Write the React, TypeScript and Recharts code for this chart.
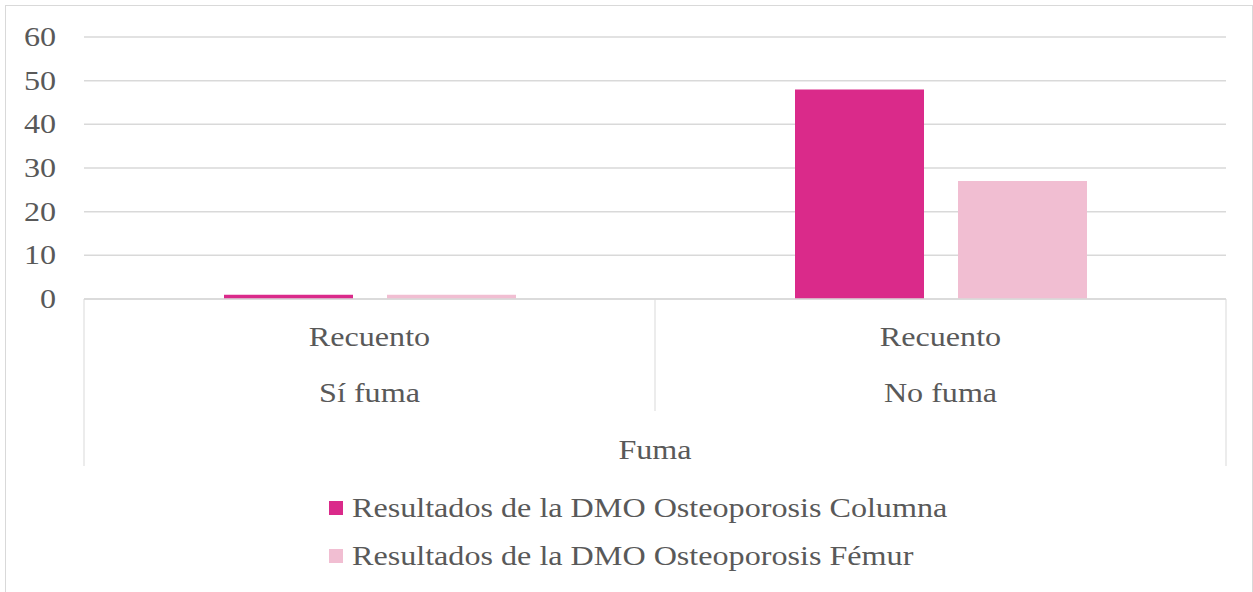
import { BarChart, Bar, XAxis, YAxis, CartesianGrid, Legend } from 'recharts';

const categories = ['Sí fuma', 'No fuma'];
const subLabels = ['Recuento', 'Recuento'];
const columna = [1, 48];
const femur = [1, 27];
const yTicks = [0, 10, 20, 30, 40, 50, 60];
const groupLabel = 'Fuma';

const seriesNames = {
    columna: 'Resultados de la DMO Osteoporosis Columna',
    femur: 'Resultados de la DMO Osteoporosis Fémur',
};
const colors = { columna: '#DA2A8A', femur: '#F1BED2' };

const data = categories.map((name, i) => ({
    name,
    sub: subLabels[i],
    columna: columna[i],
    femur: femur[i],
}));

const FONT = '"Liberation Serif", "Times New Roman", serif';
const TEXT = '#595959';
const LINE = '#d9d9d9';
const W = 1253;
const H = 592;
const PLOT_LEFT = 84;
const PLOT_RIGHT = 1226;
const PLOT_BOTTOM = 299;
// the reference text is a bit wider than the font renders here
const STRETCH = 1.19;

const Label = ({ x, y, anchor = 'middle', children }: any) => (
    <text
        transform={`translate(${x},${y}) scale(${STRETCH},1)`}
        textAnchor={anchor}
        fill={TEXT}
        fontSize={27}
        fontFamily={FONT}
    >
        {children}
    </text>
);

export default function App() {
    const band = (PLOT_RIGHT - PLOT_LEFT) / categories.length;

    const renderXTick = ({ x, payload, index }: any) => {
        const item = data[index] || data.find((d) => d.name === payload.value);
        const right = x + band / 2;
        const isLast = index === categories.length - 1;
        return (
            <g>
                {index === 0 && (
                    <line x1={x - band / 2} x2={x - band / 2} y1={PLOT_BOTTOM} y2={466} stroke={LINE} />
                )}
                <line x1={right} x2={right} y1={PLOT_BOTTOM} y2={isLast ? 466 : 411} stroke={LINE} />
                <Label x={x} y={346}>{item ? item.sub : ''}</Label>
                <Label x={x} y={402}>{payload.value}</Label>
                {index === 0 && <Label x={x + band / 2} y={459}>{groupLabel}</Label>}
            </g>
        );
    };

    const renderYTick = ({ y, payload }: any) => (
        <Label x={56} y={y + 9} anchor="end">{payload.value}</Label>
    );

    const renderLegend = () => (
        <div style={{ fontFamily: FONT, fontSize: 27, color: TEXT, lineHeight: '48px' }}>
            {(['columna', 'femur'] as const).map((key) => (
                <div key={key} style={{ display: 'flex', alignItems: 'center', whiteSpace: 'nowrap' }}>
                    <span style={{ display: 'inline-block', width: 14, height: 14, background: colors[key], marginRight: 9 }} />
                    <span style={{ display: 'inline-block', transform: `scaleX(${STRETCH})`, transformOrigin: 'left center' }}>
                        {seriesNames[key]}
                    </span>
                </div>
            ))}
        </div>
    );

    return (
        <div style={{ position: 'absolute', left: 0, top: 0, width: W, height: H, background: '#fff', overflow: 'hidden' }}>
            <div style={{ position: 'absolute', left: 5, top: 5, width: 1246, height: 700, border: `1px solid ${LINE}` }} />
            <BarChart
                width={W}
                height={H}
                data={data}
                margin={{ top: 37, right: W - PLOT_RIGHT, left: 0, bottom: 0 }}
                barCategoryGap={140}
                barGap={34}
            >
                <CartesianGrid vertical={false} stroke={LINE} strokeWidth={1.5} />
                <XAxis
                    dataKey="name"
                    height={H - PLOT_BOTTOM}
                    tick={renderXTick}
                    tickLine={false}
                    axisLine={{ stroke: LINE, strokeWidth: 1.5 }}
                    interval={0}
                />
                <YAxis
                    width={PLOT_LEFT}
                    domain={[0, 60]}
                    ticks={yTicks}
                    tick={renderYTick}
                    tickLine={false}
                    axisLine={false}
                />
                <Legend
                    layout="horizontal"
                    verticalAlign="middle"
                    align="center"
                    content={renderLegend}
                    wrapperStyle={{ top: 484, left: 329, width: 720 }}
                />
                <Bar dataKey="columna" name={seriesNames.columna} fill={colors.columna} isAnimationActive={false} />
                <Bar dataKey="femur" name={seriesNames.femur} fill={colors.femur} isAnimationActive={false} />
            </BarChart>
        </div>
    );
}
